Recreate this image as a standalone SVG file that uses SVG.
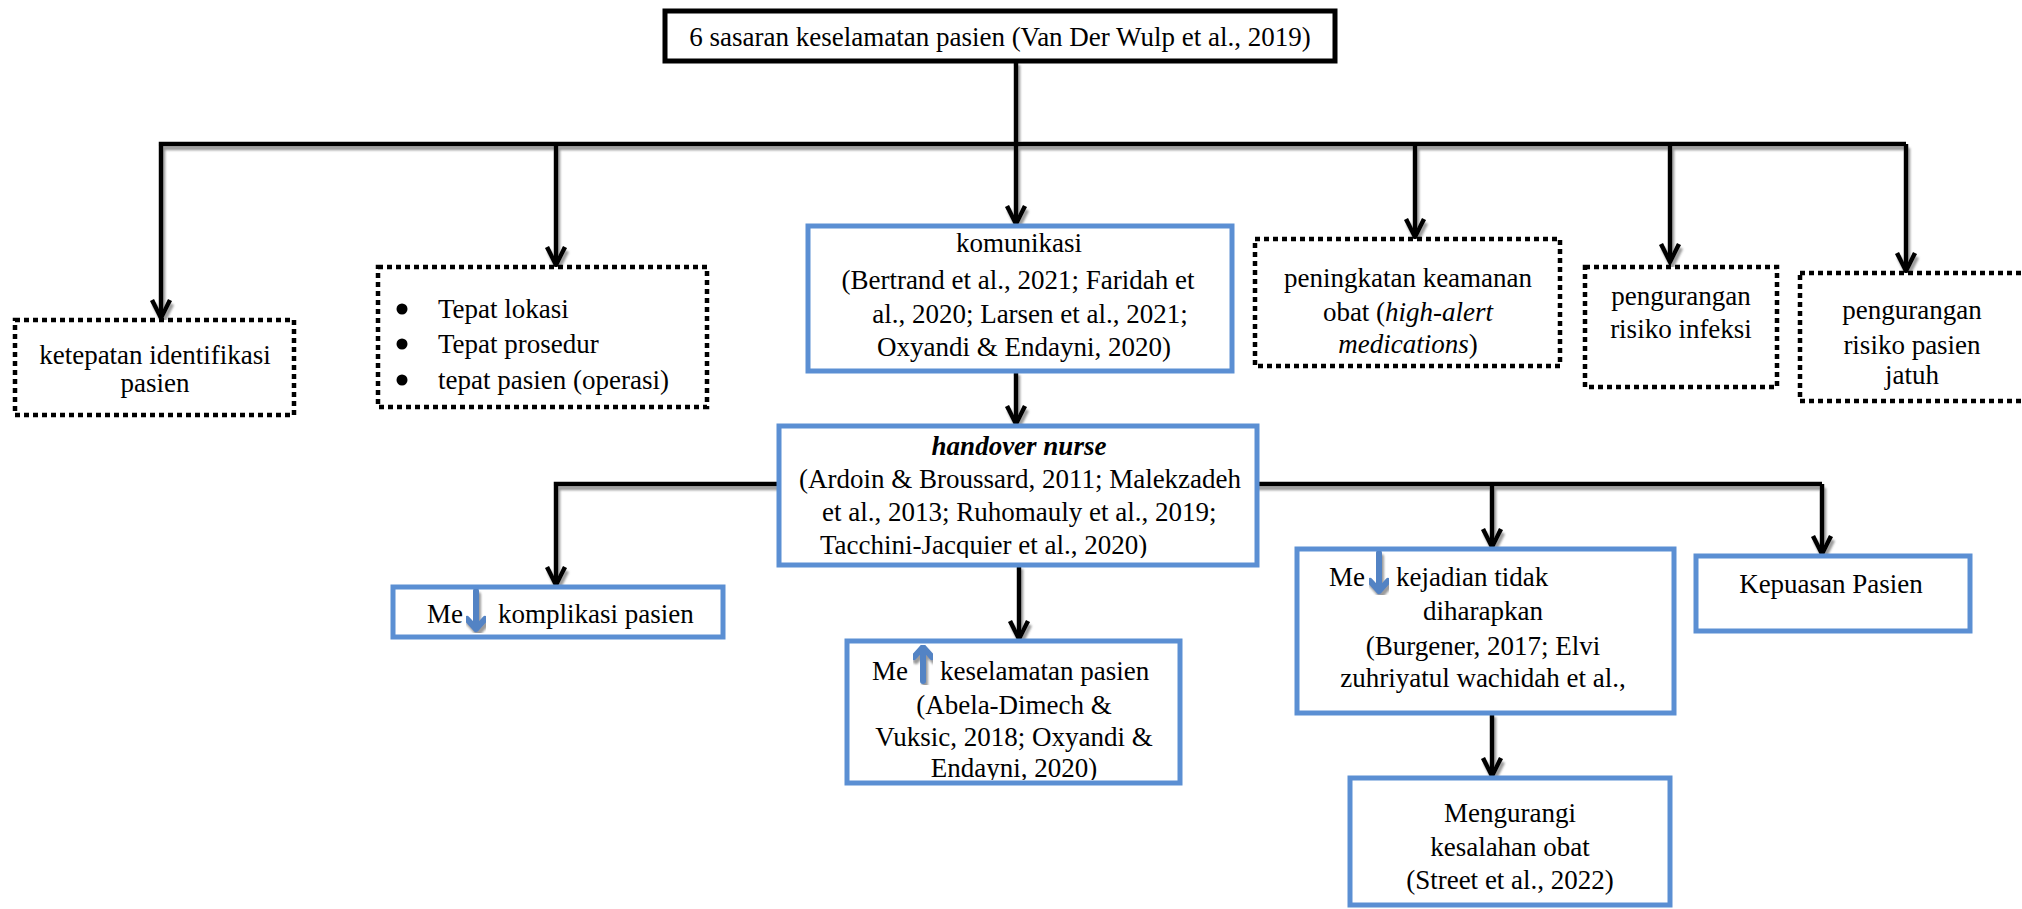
<svg xmlns="http://www.w3.org/2000/svg" width="2022" height="909" viewBox="0 0 2022 909">
<style>
text{font-family:"Liberation Serif","Times New Roman",serif;font-size:27px;fill:#000}
.c{text-anchor:middle}
.dot{fill:#fff;stroke:#000;stroke-width:4.5;stroke-dasharray:5 4}
.blue{fill:#fff;stroke:#5B8FD3;stroke-width:5}
.blk{fill:#fff;stroke:#000;stroke-width:5}
.ln{fill:none;stroke:#000;stroke-width:4.5}
.ba{fill:none;stroke:#5283C4;stroke-width:6;stroke-linecap:round;stroke-linejoin:round}
</style>
<defs>
<marker id="ah" markerUnits="userSpaceOnUse" markerWidth="30" markerHeight="30" viewBox="-15 -25 30 30" refX="0" refY="0" orient="auto-start-reverse" overflow="visible">
<path d="M-18,-9 L0,0 L-18,9" fill="none" stroke="#000" stroke-width="4.5"/>
</marker>
<filter id="sh" x="-5%" y="-5%" width="110%" height="115%">
<feDropShadow dx="2" dy="4" stdDeviation="0.8" flood-color="#7a7a7a" flood-opacity="0.75"/>
</filter>
<clipPath id="cg"><rect x="782" y="429" width="472" height="129"/></clipPath>
<clipPath id="ci"><rect x="850" y="644" width="327" height="136"/></clipPath>
</defs>
<g id="connectors" filter="url(#sh)">
<path class="ln" d="M1016,61 V224" marker-end="url(#ah)"/>
<path class="ln" d="M1906,144 H161 V318" marker-end="url(#ah)"/>
<path class="ln" d="M1906,144 V271" marker-end="url(#ah)"/>
<path class="ln" d="M556,144 V265" marker-end="url(#ah)"/>
<path class="ln" d="M1415,144 V237" marker-end="url(#ah)"/>
<path class="ln" d="M1670,144 V262" marker-end="url(#ah)"/>
<path class="ln" d="M1016,371 V424" marker-end="url(#ah)"/>
<path class="ln" d="M1822,484 H556 V585" marker-end="url(#ah)"/>
<path class="ln" d="M1822,484 V554" marker-end="url(#ah)"/>
<path class="ln" d="M1492,484 V547" marker-end="url(#ah)"/>
<path class="ln" d="M1019,565 V639" marker-end="url(#ah)"/>
<path class="ln" d="M1492,713 V776" marker-end="url(#ah)"/>
</g>
<g id="n-top">
<rect class="blk" x="665" y="11" width="670" height="50"/>
<text class="c" x="1000" y="46">6 sasaran keselamatan pasien (Van Der Wulp et al., 2019)</text>
</g>
<g id="n-identifikasi">
<rect class="dot" x="15" y="320" width="279" height="95"/>
<text class="c" x="155" y="364">ketepatan identifikasi</text>
<text class="c" x="155" y="392">pasien</text>
</g>
<g id="n-tepat">
<rect class="dot" x="378" y="267" width="329" height="140"/>
<circle cx="402" cy="309" r="5.5"/>
<circle cx="402" cy="344" r="5.5"/>
<circle cx="402" cy="380" r="5.5"/>
<text x="438" y="318">Tepat lokasi</text>
<text x="438" y="353">Tepat prosedur</text>
<text x="438" y="389">tepat pasien (operasi)</text>
</g>
<g id="n-komunikasi">
<rect class="blue" x="808" y="226" width="424" height="145"/>
<text class="c" x="1019" y="252">komunikasi</text>
<text class="c" x="1018" y="289">(Bertrand et al., 2021; Faridah et</text>
<text class="c" x="1030" y="323">al., 2020; Larsen et al., 2021;</text>
<text class="c" x="1024" y="356">Oxyandi &amp; Endayni, 2020)</text>
</g>
<g id="n-obat">
<rect class="dot" x="1255" y="239" width="305" height="127"/>
<text class="c" x="1408" y="287">peningkatan keamanan</text>
<text class="c" x="1408" y="321">obat (<tspan font-style="italic">high-alert</tspan></text>
<text class="c" x="1408" y="353"><tspan font-style="italic">medications</tspan>)</text>
</g>
<g id="n-infeksi">
<rect class="dot" x="1585" y="267" width="192" height="120"/>
<text class="c" x="1681" y="305">pengurangan</text>
<text class="c" x="1681" y="338">risiko infeksi</text>
</g>
<g id="n-jatuh">
<rect class="dot" x="1800" y="273" width="240" height="128"/>
<text class="c" x="1912" y="319">pengurangan</text>
<text class="c" x="1912" y="354">risiko pasien</text>
<text class="c" x="1912" y="384">jatuh</text>
</g>
<g id="n-handover">
<rect class="blue" x="779" y="426" width="478" height="139"/>
<g clip-path="url(#cg)">
<text class="c" x="1019" y="455" font-weight="bold" font-style="italic">handover nurse</text>
<text class="c" x="1020" y="488">(Ardoin &amp; Broussard, 2011; Malekzadeh</text>
<text x="822" y="521">et al., 2013; Ruhomauly et al., 2019;</text>
<text x="820" y="554">Tacchini-Jacquier et al., 2020)</text>
</g>
</g>
<g id="n-komplikasi">
<rect class="blue" x="393" y="587" width="330" height="50"/>
<text x="427" y="623">Me</text>
<text x="498" y="623">komplikasi pasien</text>
<path class="ba" d="M476,591 V629 M467,619 L476,629 L485,619" filter="url(#sh)"/>
</g>
<g id="n-keselamatan">
<rect class="blue" x="847" y="641" width="333" height="142"/>
<g clip-path="url(#ci)">
<text x="872" y="680">Me</text>
<text x="940" y="680">keselamatan pasien</text>
<text class="c" x="1014" y="714">(Abela-Dimech &amp;</text>
<text class="c" x="1014" y="746">Vuksic, 2018; Oxyandi &amp;</text>
<text class="c" x="1014" y="777">Endayni, 2020)</text>
</g>
<path class="ba" d="M923,681 V647 M914,657 L923,647 L932,657" filter="url(#sh)"/>
</g>
<g id="n-kejadian">
<rect class="blue" x="1297" y="549" width="377" height="164"/>
<text x="1329" y="586">Me</text>
<text x="1396" y="586">kejadian tidak</text>
<text class="c" x="1483" y="620">diharapkan</text>
<text class="c" x="1483" y="655">(Burgener, 2017; Elvi</text>
<text class="c" x="1483" y="687">zuhriyatul wachidah et al.,</text>
<path class="ba" d="M1379,553 V591 M1370,581 L1379,591 L1388,581" filter="url(#sh)"/>
</g>
<g id="n-kepuasan">
<rect class="blue" x="1696" y="556" width="274" height="75"/>
<text class="c" x="1831" y="593">Kepuasan Pasien</text>
</g>
<g id="n-mengurangi">
<rect class="blue" x="1350" y="778" width="320" height="127"/>
<text class="c" x="1510" y="822">Mengurangi</text>
<text class="c" x="1510" y="856">kesalahan obat</text>
<text class="c" x="1510" y="889">(Street et al., 2022)</text>
</g>
</svg>
